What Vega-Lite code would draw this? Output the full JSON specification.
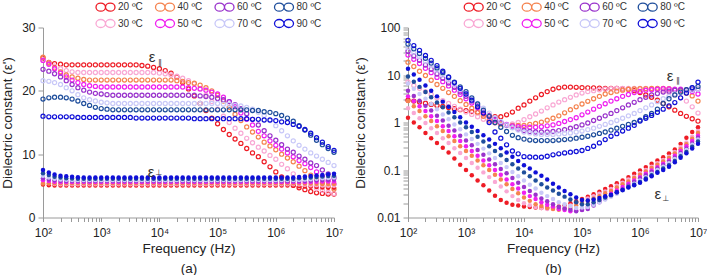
{
"$schema":"https://vega.github.io/schema/vega-lite/v6.json",
"background":"white",
"padding":{"left":0,"top":0.5,"right":0,"bottom":0},
"spacing":74,
"bounds":"flush",
"config":{"view":{"stroke":null},"font":"Liberation Sans",
"axis":{"domainColor":"#9a9a9a","tickColor":"#9a9a9a","labelColor":"#222","titleColor":"#222","labelFont":"Liberation Sans","titleFont":"Liberation Sans","titleFontWeight":"normal","labelFontSize":12,"titleFontSize":13.5,"grid":false,"tickSize":4,"labelOverlap":false,"labelBound":false,"labelFlush":false},
"legend":{"padding":0}},
"resolve":{"scale":{"stroke":"independent","fill":"independent"},"legend":{"stroke":"independent"}},
"datasets":{
"aPar":[
{"f":100,"t2":25.2,"t3":24.9,"t4":25.3,"t5":24.8,"t6":23.4,"t7":21.6,"t8":18.7,"t9":16.0},
{"f":126,"t2":24.5,"t3":24.4,"t4":24.4,"t5":24.2,"t6":23.1,"t7":21.5,"t8":18.9,"t9":15.9},
{"f":158,"t2":24.3,"t3":23.9,"t4":23.6,"t5":23.5,"t6":22.7,"t7":21.3,"t8":19.0,"t9":15.9},
{"f":200,"t2":24.2,"t3":23.5,"t4":23.0,"t5":22.8,"t6":22.2,"t7":21.0,"t8":19.0,"t9":15.9},
{"f":251,"t2":24.1,"t3":23.2,"t4":22.5,"t5":22.2,"t6":21.6,"t7":20.5,"t8":18.9,"t9":15.9},
{"f":316,"t2":24.1,"t3":23.0,"t4":22.2,"t5":21.7,"t6":21.0,"t7":20.0,"t8":18.7,"t9":15.9},
{"f":398,"t2":24.1,"t3":22.9,"t4":22.0,"t5":21.3,"t6":20.5,"t7":19.4,"t8":18.4,"t9":15.8},
{"f":501,"t2":24.1,"t3":22.9,"t4":21.8,"t5":21.0,"t6":20.1,"t7":18.9,"t8":18.0,"t9":15.8},
{"f":631,"t2":24.1,"t3":22.9,"t4":21.7,"t5":20.8,"t6":19.8,"t7":18.6,"t8":17.7,"t9":15.8},
{"f":794,"t2":24.1,"t3":22.9,"t4":21.7,"t5":20.7,"t6":19.6,"t7":18.4,"t8":17.4,"t9":15.8},
{"f":1e3,"t2":24.1,"t3":22.9,"t4":21.7,"t5":20.6,"t6":19.5,"t7":18.2,"t8":17.2,"t9":15.8},
{"f":1259,"t2":24.1,"t3":22.9,"t4":21.7,"t5":20.6,"t6":19.4,"t7":18.1,"t8":17.1,"t9":15.8},
{"f":1585,"t2":24.1,"t3":22.9,"t4":21.7,"t5":20.6,"t6":19.3,"t7":18.0,"t8":17.0,"t9":15.8},
{"f":1995,"t2":24.1,"t3":22.9,"t4":21.7,"t5":20.6,"t6":19.3,"t7":18.0,"t8":17.0,"t9":15.8},
{"f":2512,"t2":24.1,"t3":22.9,"t4":21.7,"t5":20.6,"t6":19.3,"t7":18.0,"t8":17.0,"t9":15.8},
{"f":3162,"t2":24.1,"t3":22.9,"t4":21.7,"t5":20.6,"t6":19.3,"t7":18.0,"t8":17.0,"t9":15.8},
{"f":3981,"t2":24.1,"t3":22.9,"t4":21.7,"t5":20.6,"t6":19.3,"t7":18.0,"t8":17.0,"t9":15.7},
{"f":5012,"t2":24.0,"t3":22.9,"t4":21.7,"t5":20.6,"t6":19.3,"t7":18.0,"t8":17.0,"t9":15.7},
{"f":6310,"t2":23.9,"t3":22.9,"t4":21.7,"t5":20.6,"t6":19.3,"t7":18.0,"t8":17.0,"t9":15.7},
{"f":7943,"t2":23.7,"t3":22.9,"t4":21.7,"t5":20.6,"t6":19.3,"t7":18.0,"t8":17.0,"t9":15.7},
{"f":1e4,"t2":23.5,"t3":22.8,"t4":21.7,"t5":20.6,"t6":19.3,"t7":18.0,"t8":17.0,"t9":15.7},
{"f":12589,"t2":23.2,"t3":22.7,"t4":21.7,"t5":20.6,"t6":19.3,"t7":18.0,"t8":17.0,"t9":15.7},
{"f":15849,"t2":22.8,"t3":22.5,"t4":21.7,"t5":20.6,"t6":19.3,"t7":18.0,"t8":17.0,"t9":15.7},
{"f":19953,"t2":22.2,"t3":22.3,"t4":21.6,"t5":20.6,"t6":19.3,"t7":18.0,"t8":17.0,"t9":15.7},
{"f":25119,"t2":21.3,"t3":22.0,"t4":21.5,"t5":20.6,"t6":19.3,"t7":18.0,"t8":17.0,"t9":15.7},
{"f":31623,"t2":20.3,"t3":21.6,"t4":21.3,"t5":20.5,"t6":19.3,"t7":18.0,"t8":17.0,"t9":15.7},
{"f":39811,"t2":19.2,"t3":21.1,"t4":21.2,"t5":20.4,"t6":19.3,"t7":18.0,"t8":17.0,"t9":15.6},
{"f":50119,"t2":18.0,"t3":20.3,"t4":20.9,"t5":20.3,"t6":19.2,"t7":18.0,"t8":17.0,"t9":15.6},
{"f":63096,"t2":16.9,"t3":19.3,"t4":20.5,"t5":20.1,"t6":19.1,"t7":18.0,"t8":17.0,"t9":15.6},
{"f":79433,"t2":15.7,"t3":18.3,"t4":20.0,"t5":19.8,"t6":19.0,"t7":18.0,"t8":17.0,"t9":15.6},
{"f":1e5,"t2":14.8,"t3":17.1,"t4":19.3,"t5":19.5,"t6":18.8,"t7":18.0,"t8":17.0,"t9":15.6},
{"f":125893,"t2":13.9,"t3":16.0,"t4":18.4,"t5":19.0,"t6":18.6,"t7":17.9,"t8":17.0,"t9":15.6},
{"f":158489,"t2":13.1,"t3":15.0,"t4":17.4,"t5":18.3,"t6":18.3,"t7":17.9,"t8":17.0,"t9":15.6},
{"f":199526,"t2":12.4,"t3":14.1,"t4":16.3,"t5":17.5,"t6":17.8,"t7":17.7,"t8":17.0,"t9":15.6},
{"f":251189,"t2":11.7,"t3":13.3,"t4":15.3,"t5":16.5,"t6":17.2,"t7":17.6,"t8":17.0,"t9":15.6},
{"f":316228,"t2":10.9,"t3":12.5,"t4":14.3,"t5":15.5,"t6":16.4,"t7":17.4,"t8":17.0,"t9":15.6},
{"f":398107,"t2":10.2,"t3":11.8,"t4":13.5,"t5":14.6,"t6":15.5,"t7":17.1,"t8":16.9,"t9":15.5},
{"f":501187,"t2":9.6,"t3":11.1,"t4":12.7,"t5":13.6,"t6":14.6,"t7":16.6,"t8":16.9,"t9":15.5},
{"f":630957,"t2":8.8,"t3":10.5,"t4":11.9,"t5":12.9,"t6":13.7,"t7":16.1,"t8":16.7,"t9":15.4},
{"f":794328,"t2":8.0,"t3":9.8,"t4":11.3,"t5":12.1,"t6":12.9,"t7":15.3,"t8":16.6,"t9":15.4},
{"f":1e6,"t2":7.2,"t3":9.2,"t4":10.7,"t5":11.4,"t6":12.2,"t7":14.5,"t8":16.4,"t9":15.3},
{"f":1258925,"t2":6.4,"t3":8.4,"t4":10.0,"t5":10.8,"t6":11.5,"t7":13.7,"t8":16.1,"t9":15.1},
{"f":1584893,"t2":5.7,"t3":7.7,"t4":9.4,"t5":10.2,"t6":10.8,"t7":12.9,"t8":15.7,"t9":15.0},
{"f":1995262,"t2":5.1,"t3":6.9,"t4":8.8,"t5":9.6,"t6":10.3,"t7":12.1,"t8":15.2,"t9":14.7},
{"f":2511886,"t2":4.7,"t3":6.1,"t4":8.1,"t5":9.0,"t6":9.7,"t7":11.4,"t8":14.5,"t9":14.4},
{"f":3162278,"t2":4.4,"t3":5.5,"t4":7.4,"t5":8.5,"t6":9.2,"t7":10.8,"t8":13.8,"t9":13.9},
{"f":3981072,"t2":4.1,"t3":5.0,"t4":6.7,"t5":7.9,"t6":8.6,"t7":10.2,"t8":13.0,"t9":13.3},
{"f":5011872,"t2":3.9,"t3":4.6,"t4":6.0,"t5":7.2,"t6":8.2,"t7":9.7,"t8":12.2,"t9":12.6},
{"f":6309573,"t2":3.8,"t3":4.3,"t4":5.4,"t5":6.5,"t6":7.5,"t7":9.2,"t8":11.5,"t9":11.9},
{"f":7943282,"t2":3.7,"t3":4.0,"t4":4.9,"t5":5.8,"t6":6.9,"t7":8.7,"t8":10.9,"t9":11.2},
{"f":1e7,"t2":3.7,"t3":3.8,"t4":4.5,"t5":5.3,"t6":6.3,"t7":8.2,"t8":10.3,"t9":10.6}
],
"aPerp":[
{"f":100,"t2":5.2,"t3":5.5,"t4":5.35,"t5":5.9,"t6":6.2,"t7":6.6,"t8":7.0,"t9":7.5},
{"f":126,"t2":5.1,"t3":5.4,"t4":5.4,"t5":5.75,"t6":6.0,"t7":6.3,"t8":6.7,"t9":7.1},
{"f":158,"t2":5.05,"t3":5.3,"t4":5.4,"t5":5.65,"t6":5.88,"t7":6.1,"t8":6.45,"t9":6.8},
{"f":200,"t2":5.05,"t3":5.25,"t4":5.4,"t5":5.6,"t6":5.8,"t7":6.0,"t8":6.3,"t9":6.6},
{"f":251,"t2":5.05,"t3":5.25,"t4":5.4,"t5":5.6,"t6":5.77,"t7":5.95,"t8":6.2,"t9":6.5},
{"f":316,"t2":5.05,"t3":5.25,"t4":5.4,"t5":5.6,"t6":5.75,"t7":5.92,"t8":6.15,"t9":6.42},
{"f":398,"t2":5.05,"t3":5.25,"t4":5.4,"t5":5.6,"t6":5.75,"t7":5.9,"t8":6.12,"t9":6.37},
{"f":501,"t2":5.05,"t3":5.25,"t4":5.4,"t5":5.6,"t6":5.75,"t7":5.9,"t8":6.1,"t9":6.33},
{"f":631,"t2":5.05,"t3":5.25,"t4":5.4,"t5":5.6,"t6":5.75,"t7":5.9,"t8":6.1,"t9":6.3},
{"f":794,"t2":5.05,"t3":5.25,"t4":5.4,"t5":5.6,"t6":5.75,"t7":5.9,"t8":6.1,"t9":6.3},
{"f":1e3,"t2":5.05,"t3":5.25,"t4":5.4,"t5":5.6,"t6":5.75,"t7":5.9,"t8":6.1,"t9":6.3},
{"f":1259,"t2":5.05,"t3":5.25,"t4":5.4,"t5":5.6,"t6":5.75,"t7":5.9,"t8":6.1,"t9":6.3},
{"f":1585,"t2":5.05,"t3":5.25,"t4":5.4,"t5":5.6,"t6":5.75,"t7":5.9,"t8":6.1,"t9":6.3},
{"f":1995,"t2":5.05,"t3":5.25,"t4":5.4,"t5":5.6,"t6":5.75,"t7":5.9,"t8":6.1,"t9":6.3},
{"f":2512,"t2":5.05,"t3":5.25,"t4":5.4,"t5":5.6,"t6":5.75,"t7":5.9,"t8":6.1,"t9":6.3},
{"f":3162,"t2":5.05,"t3":5.25,"t4":5.4,"t5":5.6,"t6":5.75,"t7":5.9,"t8":6.1,"t9":6.3},
{"f":3981,"t2":5.05,"t3":5.25,"t4":5.4,"t5":5.6,"t6":5.75,"t7":5.9,"t8":6.1,"t9":6.3},
{"f":5012,"t2":5.05,"t3":5.25,"t4":5.4,"t5":5.6,"t6":5.75,"t7":5.9,"t8":6.1,"t9":6.3},
{"f":6310,"t2":5.05,"t3":5.25,"t4":5.4,"t5":5.6,"t6":5.75,"t7":5.9,"t8":6.1,"t9":6.3},
{"f":7943,"t2":5.05,"t3":5.25,"t4":5.4,"t5":5.6,"t6":5.75,"t7":5.9,"t8":6.1,"t9":6.3},
{"f":1e4,"t2":5.05,"t3":5.25,"t4":5.4,"t5":5.6,"t6":5.75,"t7":5.9,"t8":6.1,"t9":6.3},
{"f":12589,"t2":5.05,"t3":5.25,"t4":5.4,"t5":5.6,"t6":5.75,"t7":5.9,"t8":6.1,"t9":6.3},
{"f":15849,"t2":5.05,"t3":5.25,"t4":5.4,"t5":5.6,"t6":5.75,"t7":5.9,"t8":6.1,"t9":6.3},
{"f":19953,"t2":5.05,"t3":5.25,"t4":5.4,"t5":5.6,"t6":5.75,"t7":5.9,"t8":6.1,"t9":6.3},
{"f":25119,"t2":5.05,"t3":5.25,"t4":5.4,"t5":5.6,"t6":5.75,"t7":5.9,"t8":6.1,"t9":6.3},
{"f":31623,"t2":5.05,"t3":5.25,"t4":5.4,"t5":5.6,"t6":5.75,"t7":5.9,"t8":6.1,"t9":6.3},
{"f":39811,"t2":5.05,"t3":5.25,"t4":5.4,"t5":5.6,"t6":5.75,"t7":5.9,"t8":6.1,"t9":6.3},
{"f":50119,"t2":5.05,"t3":5.25,"t4":5.4,"t5":5.6,"t6":5.75,"t7":5.9,"t8":6.1,"t9":6.3},
{"f":63096,"t2":5.05,"t3":5.25,"t4":5.4,"t5":5.6,"t6":5.75,"t7":5.9,"t8":6.1,"t9":6.3},
{"f":79433,"t2":5.05,"t3":5.25,"t4":5.4,"t5":5.6,"t6":5.75,"t7":5.9,"t8":6.1,"t9":6.3},
{"f":1e5,"t2":5.05,"t3":5.25,"t4":5.4,"t5":5.6,"t6":5.75,"t7":5.9,"t8":6.1,"t9":6.3},
{"f":125893,"t2":5.05,"t3":5.25,"t4":5.4,"t5":5.6,"t6":5.75,"t7":5.9,"t8":6.1,"t9":6.3},
{"f":158489,"t2":5.05,"t3":5.25,"t4":5.4,"t5":5.6,"t6":5.75,"t7":5.9,"t8":6.1,"t9":6.3},
{"f":199526,"t2":5.05,"t3":5.25,"t4":5.4,"t5":5.6,"t6":5.75,"t7":5.9,"t8":6.1,"t9":6.3},
{"f":251189,"t2":5.05,"t3":5.25,"t4":5.4,"t5":5.6,"t6":5.75,"t7":5.9,"t8":6.1,"t9":6.3},
{"f":316228,"t2":5.05,"t3":5.25,"t4":5.4,"t5":5.6,"t6":5.75,"t7":5.9,"t8":6.1,"t9":6.3},
{"f":398107,"t2":5.05,"t3":5.25,"t4":5.4,"t5":5.6,"t6":5.75,"t7":5.9,"t8":6.1,"t9":6.3},
{"f":501187,"t2":5.05,"t3":5.25,"t4":5.4,"t5":5.6,"t6":5.75,"t7":5.9,"t8":6.1,"t9":6.3},
{"f":630957,"t2":5.05,"t3":5.25,"t4":5.4,"t5":5.6,"t6":5.75,"t7":5.9,"t8":6.1,"t9":6.3},
{"f":794328,"t2":5.05,"t3":5.25,"t4":5.4,"t5":5.6,"t6":5.75,"t7":5.9,"t8":6.1,"t9":6.3},
{"f":1e6,"t2":5.05,"t3":5.25,"t4":5.4,"t5":5.6,"t6":5.75,"t7":5.9,"t8":6.1,"t9":6.3},
{"f":1258925,"t2":5.05,"t3":5.25,"t4":5.4,"t5":5.6,"t6":5.75,"t7":5.9,"t8":6.1,"t9":6.3},
{"f":1584893,"t2":5.05,"t3":5.25,"t4":5.4,"t5":5.6,"t6":5.75,"t7":5.9,"t8":6.1,"t9":6.3},
{"f":1995262,"t2":5.0,"t3":5.25,"t4":5.4,"t5":5.6,"t6":5.75,"t7":5.9,"t8":6.13,"t9":6.33},
{"f":2511886,"t2":4.95,"t3":5.2,"t4":5.4,"t5":5.6,"t6":5.75,"t7":5.93,"t8":6.18,"t9":6.4},
{"f":3162278,"t2":4.9,"t3":5.15,"t4":5.38,"t5":5.6,"t6":5.78,"t7":5.98,"t8":6.25,"t9":6.48},
{"f":3981072,"t2":4.85,"t3":5.1,"t4":5.35,"t5":5.62,"t6":5.82,"t7":6.05,"t8":6.33,"t9":6.57},
{"f":5011872,"t2":4.8,"t3":5.1,"t4":5.33,"t5":5.65,"t6":5.88,"t7":6.12,"t8":6.4,"t9":6.65},
{"f":6309573,"t2":4.75,"t3":5.05,"t4":5.3,"t5":5.68,"t6":5.92,"t7":6.2,"t8":6.48,"t9":6.73},
{"f":7943282,"t2":4.7,"t3":5.0,"t4":5.3,"t5":5.7,"t6":5.96,"t7":6.25,"t8":6.55,"t9":6.82},
{"f":1e7,"t2":4.7,"t3":5.0,"t4":5.3,"t5":5.7,"t6":6.0,"t7":6.3,"t8":6.6,"t9":6.9}
],
"bPar":[
{"f":100,"t2":2.95,"t3":7.08,"t4":18.6,"t5":26.3,"t6":31.6,"t7":38.0,"t8":44.7,"t9":53.7},
{"f":126,"t2":2.82,"t3":6.03,"t4":15.1,"t5":21.4,"t6":25.1,"t7":30.2,"t8":35.5,"t9":41.7},
{"f":158,"t2":2.69,"t3":5.25,"t4":12.0,"t5":17.4,"t6":20.4,"t7":24.5,"t8":28.2,"t9":33.1},
{"f":200,"t2":2.54,"t3":4.47,"t4":9.77,"t5":13.8,"t6":16.2,"t7":19.5,"t8":22.4,"t9":25.7},
{"f":251,"t2":2.40,"t3":3.89,"t4":7.76,"t5":11.2,"t6":13.2,"t7":15.8,"t8":17.8,"t9":20.4},
{"f":316,"t2":2.29,"t3":3.31,"t4":6.31,"t5":8.91,"t6":10.5,"t7":12.6,"t8":14.1,"t9":15.8},
{"f":398,"t2":2.19,"t3":2.88,"t4":5.25,"t5":7.24,"t6":8.51,"t7":10.0,"t8":11.2,"t9":12.0},
{"f":501,"t2":2.07,"t3":2.51,"t4":4.27,"t5":5.89,"t6":6.76,"t7":7.94,"t8":8.91,"t9":9.12},
{"f":631,"t2":1.95,"t3":2.19,"t4":3.55,"t5":4.79,"t6":5.50,"t7":6.31,"t8":7.08,"t9":6.92},
{"f":794,"t2":1.86,"t3":1.91,"t4":2.88,"t5":3.89,"t6":4.37,"t7":5.01,"t8":5.62,"t9":5.25},
{"f":1e3,"t2":1.78,"t3":1.66,"t4":2.40,"t5":3.16,"t6":3.55,"t7":3.98,"t8":4.47,"t9":3.98},
{"f":1259,"t2":1.70,"t3":1.48,"t4":2.0,"t5":2.57,"t6":2.82,"t7":3.16,"t8":3.31,"t9":2.95},
{"f":1585,"t2":1.62,"t3":1.32,"t4":1.66,"t5":2.04,"t6":2.24,"t7":2.51,"t8":2.45,"t9":2.14},
{"f":1995,"t2":1.51,"t3":1.17,"t4":1.35,"t5":1.66,"t6":1.78,"t7":2.0,"t8":1.82,"t9":1.58},
{"f":2512,"t2":1.41,"t3":1.05,"t4":1.12,"t5":1.32,"t6":1.41,"t7":1.58,"t8":1.35,"t9":1.0},
{"f":3162,"t2":1.32,"t3":0.977,"t4":1.0,"t5":1.12,"t6":1.17,"t7":1.26,"t8":1.0,"t9":0.631},
{"f":3981,"t2":1.32,"t3":0.933,"t4":0.933,"t5":1.0,"t6":1.0,"t7":1.05,"t8":0.794,"t9":0.468},
{"f":5012,"t2":1.45,"t3":0.891,"t4":0.891,"t5":0.912,"t6":0.871,"t7":0.891,"t8":0.646,"t9":0.339},
{"f":6310,"t2":1.66,"t3":0.933,"t4":0.871,"t5":0.851,"t6":0.794,"t7":0.776,"t8":0.537,"t9":0.251},
{"f":7943,"t2":2.0,"t3":1.0,"t4":0.871,"t5":0.813,"t6":0.724,"t7":0.692,"t8":0.479,"t9":0.219},
{"f":1e4,"t2":2.34,"t3":1.15,"t4":0.871,"t5":0.794,"t6":0.676,"t7":0.631,"t8":0.447,"t9":0.191},
{"f":12589,"t2":2.82,"t3":1.32,"t4":0.912,"t5":0.794,"t6":0.646,"t7":0.603,"t8":0.427,"t9":0.188},
{"f":15849,"t2":3.31,"t3":1.51,"t4":0.955,"t5":0.794,"t6":0.631,"t7":0.575,"t8":0.417,"t9":0.186},
{"f":19953,"t2":3.89,"t3":1.74,"t4":1.02,"t5":0.813,"t6":0.631,"t7":0.562,"t8":0.417,"t9":0.186},
{"f":25119,"t2":4.47,"t3":2.04,"t4":1.12,"t5":0.851,"t6":0.631,"t7":0.562,"t8":0.417,"t9":0.195},
{"f":31623,"t2":5.01,"t3":2.34,"t4":1.23,"t5":0.891,"t6":0.646,"t7":0.562,"t8":0.417,"t9":0.209},
{"f":39811,"t2":5.37,"t3":2.69,"t4":1.38,"t5":0.955,"t6":0.676,"t7":0.575,"t8":0.427,"t9":0.219},
{"f":50119,"t2":5.56,"t3":3.02,"t4":1.60,"t5":1.05,"t6":0.708,"t7":0.589,"t8":0.437,"t9":0.229},
{"f":63096,"t2":5.56,"t3":3.39,"t4":1.86,"t5":1.15,"t6":0.759,"t7":0.603,"t8":0.447,"t9":0.237},
{"f":79433,"t2":5.50,"t3":3.80,"t4":2.14,"t5":1.26,"t6":0.813,"t7":0.631,"t8":0.468,"t9":0.245},
{"f":1e5,"t2":5.43,"t3":4.17,"t4":2.45,"t5":1.45,"t6":0.891,"t7":0.661,"t8":0.490,"t9":0.257},
{"f":125893,"t2":5.37,"t3":4.47,"t4":2.79,"t5":1.66,"t6":0.977,"t7":0.708,"t8":0.513,"t9":0.285},
{"f":158489,"t2":5.37,"t3":4.68,"t4":3.16,"t5":1.91,"t6":1.10,"t7":0.759,"t8":0.550,"t9":0.316},
{"f":199526,"t2":5.31,"t3":4.90,"t4":3.55,"t5":2.19,"t6":1.23,"t7":0.832,"t8":0.589,"t9":0.372},
{"f":251189,"t2":5.25,"t3":5.01,"t4":3.98,"t5":2.48,"t6":1.38,"t7":0.912,"t8":0.631,"t9":0.437},
{"f":316228,"t2":5.25,"t3":5.13,"t4":4.27,"t5":2.82,"t6":1.55,"t7":1.0,"t8":0.692,"t9":0.513},
{"f":398107,"t2":5.25,"t3":5.19,"t4":4.57,"t5":3.16,"t6":1.78,"t7":1.10,"t8":0.759,"t9":0.582},
{"f":501187,"t2":5.13,"t3":5.25,"t4":4.79,"t5":3.55,"t6":2.04,"t7":1.23,"t8":0.832,"t9":0.661},
{"f":630957,"t2":5.01,"t3":5.25,"t4":5.01,"t5":3.89,"t6":2.34,"t7":1.38,"t8":0.912,"t9":0.759},
{"f":794328,"t2":4.68,"t3":5.25,"t4":5.07,"t5":4.27,"t6":2.66,"t7":1.55,"t8":1.0,"t9":0.871},
{"f":1e6,"t2":4.27,"t3":5.25,"t4":5.13,"t5":4.52,"t6":3.02,"t7":1.78,"t8":1.12,"t9":1.07},
{"f":1258925,"t2":3.80,"t3":5.19,"t4":5.16,"t5":4.79,"t6":3.39,"t7":2.04,"t8":1.32,"t9":1.23},
{"f":1584893,"t2":3.39,"t3":5.13,"t4":5.21,"t5":4.90,"t6":3.80,"t7":2.34,"t8":1.55,"t9":1.41},
{"f":1995262,"t2":2.95,"t3":4.90,"t4":5.25,"t5":5.01,"t6":4.07,"t7":2.75,"t8":1.91,"t9":1.64},
{"f":2511886,"t2":2.51,"t3":4.68,"t4":5.19,"t5":5.13,"t6":4.37,"t7":3.16,"t8":2.51,"t9":1.91},
{"f":3162278,"t2":2.14,"t3":4.27,"t4":5.13,"t5":5.09,"t6":4.57,"t7":3.55,"t8":3.16,"t9":2.24},
{"f":3981072,"t2":1.82,"t3":3.80,"t4":4.90,"t5":5.05,"t6":4.79,"t7":3.98,"t8":3.80,"t9":2.63},
{"f":5011872,"t2":1.55,"t3":3.31,"t4":4.68,"t5":5.01,"t6":4.84,"t7":4.27,"t8":4.37,"t9":3.31},
{"f":6309573,"t2":1.35,"t3":2.82,"t4":4.12,"t5":4.73,"t6":4.90,"t7":4.57,"t8":4.90,"t9":4.17},
{"f":7943282,"t2":1.20,"t3":2.14,"t4":3.63,"t5":4.47,"t6":4.95,"t7":4.79,"t8":5.37,"t9":5.43},
{"f":1e7,"t2":1.07,"t3":1.58,"t4":2.82,"t5":3.98,"t6":5.01,"t7":5.01,"t8":5.75,"t9":7.08}
],
"bPerp":[
{"f":100,"t2":1.26,"t3":2.0,"t4":2.82,"t5":3.55,"t6":4.68,"t7":6.61,"t8":9.33,"t9":13.5},
{"f":126,"t2":1.0,"t3":1.58,"t4":2.19,"t5":2.82,"t6":3.63,"t7":5.13,"t8":7.24,"t9":10.2},
{"f":158,"t2":0.794,"t3":1.23,"t4":1.74,"t5":2.19,"t6":2.88,"t7":3.98,"t8":5.62,"t9":7.94},
{"f":200,"t2":0.603,"t3":0.977,"t4":1.35,"t5":1.74,"t6":2.24,"t7":3.16,"t8":4.37,"t9":6.03},
{"f":251,"t2":0.468,"t3":0.759,"t4":1.07,"t5":1.35,"t6":1.78,"t7":2.45,"t8":3.39,"t9":4.68},
{"f":316,"t2":0.372,"t3":0.603,"t4":0.832,"t5":1.07,"t6":1.38,"t7":1.91,"t8":2.63,"t9":3.55},
{"f":398,"t2":0.295,"t3":0.468,"t4":0.661,"t5":0.832,"t6":1.1,"t7":1.48,"t8":2.09,"t9":2.75},
{"f":501,"t2":0.234,"t3":0.372,"t4":0.513,"t5":0.661,"t6":0.851,"t7":1.17,"t8":1.62,"t9":2.14},
{"f":631,"t2":0.174,"t3":0.288,"t4":0.407,"t5":0.513,"t6":0.676,"t7":0.912,"t8":1.29,"t9":1.66},
{"f":794,"t2":0.129,"t3":0.229,"t4":0.316,"t5":0.407,"t6":0.525,"t7":0.724,"t8":1.0,"t9":1.29},
{"f":1e3,"t2":0.1,"t3":0.178,"t4":0.251,"t5":0.316,"t6":0.417,"t7":0.562,"t8":0.794,"t9":1.0},
{"f":1259,"t2":0.0776,"t3":0.141,"t4":0.2,"t5":0.251,"t6":0.331,"t7":0.447,"t8":0.631,"t9":0.813},
{"f":1585,"t2":0.0603,"t3":0.112,"t4":0.158,"t5":0.2,"t6":0.263,"t7":0.355,"t8":0.501,"t9":0.661},
{"f":1995,"t2":0.0479,"t3":0.0891,"t4":0.126,"t5":0.158,"t6":0.209,"t7":0.282,"t8":0.398,"t9":0.537},
{"f":2512,"t2":0.0372,"t3":0.0708,"t4":0.1,"t5":0.126,"t6":0.166,"t7":0.224,"t8":0.316,"t9":0.437},
{"f":3162,"t2":0.0288,"t3":0.0562,"t4":0.0794,"t5":0.1,"t6":0.132,"t7":0.178,"t8":0.251,"t9":0.355},
{"f":3981,"t2":0.0234,"t3":0.0447,"t4":0.0631,"t5":0.0794,"t6":0.105,"t7":0.141,"t8":0.204,"t9":0.288},
{"f":5012,"t2":0.0204,"t3":0.0355,"t4":0.0501,"t5":0.0631,"t6":0.0851,"t7":0.115,"t8":0.162,"t9":0.234},
{"f":6310,"t2":0.0186,"t3":0.0282,"t4":0.0398,"t5":0.0501,"t6":0.0676,"t7":0.0912,"t8":0.132,"t9":0.191},
{"f":7943,"t2":0.0178,"t3":0.0234,"t4":0.0324,"t5":0.0407,"t6":0.0537,"t7":0.0741,"t8":0.107,"t9":0.155},
{"f":1e4,"t2":0.017,"t3":0.02,"t4":0.0263,"t5":0.0331,"t6":0.0437,"t7":0.0603,"t8":0.0891,"t9":0.126},
{"f":12589,"t2":0.0166,"t3":0.0182,"t4":0.0224,"t5":0.0282,"t6":0.0363,"t7":0.049,"t8":0.0741,"t9":0.107},
{"f":15849,"t2":0.0162,"t3":0.0166,"t4":0.0191,"t5":0.0245,"t6":0.0302,"t7":0.0407,"t8":0.0603,"t9":0.0891},
{"f":19953,"t2":0.0158,"t3":0.0158,"t4":0.0174,"t5":0.0209,"t6":0.0251,"t7":0.0331,"t8":0.0501,"t9":0.0759},
{"f":25119,"t2":0.0158,"t3":0.0151,"t4":0.0158,"t5":0.0186,"t6":0.0219,"t7":0.0282,"t8":0.0427,"t9":0.0631},
{"f":31623,"t2":0.0162,"t3":0.0153,"t4":0.0151,"t5":0.017,"t6":0.0191,"t7":0.0245,"t8":0.0372,"t9":0.0513},
{"f":39811,"t2":0.017,"t3":0.0155,"t4":0.0145,"t5":0.0151,"t6":0.0166,"t7":0.0209,"t8":0.0316,"t9":0.0427},
{"f":50119,"t2":0.0182,"t3":0.0166,"t4":0.0151,"t5":0.0143,"t6":0.0155,"t7":0.0191,"t8":0.0275,"t9":0.0363},
{"f":63096,"t2":0.02,"t3":0.0178,"t4":0.0158,"t5":0.0135,"t6":0.0145,"t7":0.0174,"t8":0.024,"t9":0.0309},
{"f":79433,"t2":0.0219,"t3":0.02,"t4":0.0178,"t5":0.014,"t6":0.0135,"t7":0.0158,"t8":0.0209,"t9":0.0263},
{"f":1e5,"t2":0.0245,"t3":0.0219,"t4":0.02,"t5":0.0145,"t6":0.0143,"t7":0.0162,"t8":0.0191,"t9":0.0234},
{"f":125893,"t2":0.0275,"t3":0.0251,"t4":0.0224,"t5":0.0166,"t6":0.0151,"t7":0.0166,"t8":0.0191,"t9":0.0229},
{"f":158489,"t2":0.0309,"t3":0.0282,"t4":0.0251,"t5":0.0191,"t6":0.0178,"t7":0.0186,"t8":0.0209,"t9":0.024},
{"f":199526,"t2":0.0347,"t3":0.0316,"t4":0.0282,"t5":0.0224,"t6":0.0209,"t7":0.0209,"t8":0.0234,"t9":0.0257},
{"f":251189,"t2":0.0398,"t3":0.0355,"t4":0.0324,"t5":0.0269,"t6":0.0245,"t7":0.024,"t8":0.0263,"t9":0.0279},
{"f":316228,"t2":0.0457,"t3":0.0398,"t4":0.0363,"t5":0.0316,"t6":0.0282,"t7":0.0275,"t8":0.0295,"t9":0.0302},
{"f":398107,"t2":0.0525,"t3":0.0468,"t4":0.0427,"t5":0.0372,"t6":0.0331,"t7":0.0316,"t8":0.0339,"t9":0.0339},
{"f":501187,"t2":0.0603,"t3":0.0537,"t4":0.0501,"t5":0.0437,"t6":0.0394,"t7":0.0372,"t8":0.038,"t9":0.038},
{"f":630957,"t2":0.0708,"t3":0.0631,"t4":0.0575,"t5":0.0513,"t6":0.0468,"t7":0.0437,"t8":0.0437,"t9":0.0427},
{"f":794328,"t2":0.0832,"t3":0.0724,"t4":0.0676,"t5":0.0603,"t6":0.0556,"t7":0.0513,"t8":0.049,"t9":0.0479},
{"f":1e6,"t2":0.0977,"t3":0.0851,"t4":0.0794,"t5":0.0708,"t6":0.0661,"t7":0.0603,"t8":0.0562,"t9":0.0537},
{"f":1258925,"t2":0.115,"t3":0.1,"t4":0.0933,"t5":0.0832,"t6":0.0776,"t7":0.0708,"t8":0.0661,"t9":0.0631},
{"f":1584893,"t2":0.135,"t3":0.117,"t4":0.11,"t5":0.0977,"t6":0.0912,"t7":0.0832,"t8":0.0776,"t9":0.0741},
{"f":1995262,"t2":0.158,"t3":0.138,"t4":0.129,"t5":0.115,"t6":0.107,"t7":0.1,"t8":0.0912,"t9":0.0871},
{"f":2511886,"t2":0.186,"t3":0.162,"t4":0.151,"t5":0.135,"t6":0.126,"t7":0.117,"t8":0.107,"t9":0.1},
{"f":3162278,"t2":0.224,"t3":0.191,"t4":0.178,"t5":0.158,"t6":0.148,"t7":0.138,"t8":0.126,"t9":0.117},
{"f":3981072,"t2":0.269,"t3":0.24,"t4":0.224,"t5":0.2,"t6":0.182,"t7":0.17,"t8":0.155,"t9":0.145},
{"f":5011872,"t2":0.355,"t3":0.302,"t4":0.275,"t5":0.251,"t6":0.229,"t7":0.214,"t8":0.195,"t9":0.182},
{"f":6309573,"t2":0.479,"t3":0.38,"t4":0.347,"t5":0.316,"t6":0.282,"t7":0.263,"t8":0.24,"t9":0.224},
{"f":7943282,"t2":0.631,"t3":0.501,"t4":0.457,"t5":0.407,"t6":0.363,"t7":0.339,"t8":0.309,"t9":0.282},
{"f":1e7,"t2":0.794,"t3":0.661,"t4":0.603,"t5":0.525,"t6":0.479,"t7":0.437,"t8":0.398,"t9":0.355}
]
},
"hconcat":[
{"width":291,"height":190,
"layer":[
{"data":{"name":"aPar"},"transform":[{"fold":["t2","t3","t4","t5","t6","t7","t8","t9"],"as":["T","v"]}],
"mark":{"type":"point","filled":false,"fill":"transparent","size":17,"strokeWidth":1.2,"opacity":1},
"encoding":{
"x":{"field":"f","type":"quantitative","scale":{"type":"log","domain":[100,10000000],"nice":false},
"axis":{"values":[100,200,300,400,500,600,700,800,900,1000,2000,3000,4000,5000,6000,7000,8000,9000,10000,20000,30000,40000,50000,60000,70000,80000,90000,100000,200000,300000,400000,500000,600000,700000,800000,900000,1000000,2000000,3000000,4000000,5000000,6000000,7000000,8000000,9000000,10000000],
"labelExpr":"datum.value == 100 ? '10²' : datum.value == 1000 ? '10³' : datum.value == 10000 ? '10⁴' : datum.value == 100000 ? '10⁵' : datum.value == 1000000 ? '10⁶' : datum.value == 10000000 ? '10⁷' : ''",
"title":["Frequency (Hz)","(a)"],"titleLineHeight":20,"labelPadding":5.5,"titlePadding":3,"tickSize":4}},
"y":{"field":"v","type":"quantitative","scale":{"domain":[0,30],"nice":false},
"axis":{"values":[0,2.5,5,7.5,10,12.5,15,17.5,20,22.5,25,27.5,30],"labelExpr":"datum.value % 5 == 0 ? datum.label : ''","title":"Dielectric constant (ε')","titlePadding":7.5,"labelPadding":3,"tickSize":5}},
"stroke":{"field":"T","type":"nominal","scale":{"domain":["t2","t4","t6","t8","t3","t5","t7","t9"],"range":["#ee1c25","#f5834f","#9933cc","#1f4e9c","#f9a8d4","#f020f0","#c8c8f8","#1010d8"]},
"legend":{"orient":"none","legendX":56.5,"legendY":-26.5,"columns":4,"direction":"horizontal","title":null,"symbolType":"M-1.9,0A0.95,0.8,0,1,1,0,0A0.95,0.8,0,1,1,-1.9,0M0,0A0.95,0.8,0,1,1,1.9,0A0.95,0.8,0,1,1,0,0","symbolSize":100,"symbolStrokeWidth":1.3,"symbolFillColor":"transparent","labelFontSize":10,"labelColor":"#333","labelFont":"Liberation Sans","labelOffset":6.5,"columnPadding":8.5,"rowPadding":2.5,"padding":0,"labelExpr":"replace(datum.label, 't', '') + '0 ºC'"}}
}},
{"data":{"name":"aPerp"},"transform":[{"fold":["t2","t3","t4","t5","t6","t7","t8","t9"],"as":["T","v"]}],
"mark":{"type":"point","filled":true,"size":20,"opacity":1},
"encoding":{
"x":{"field":"f","type":"quantitative"},
"y":{"field":"v","type":"quantitative"},
"fill":{"field":"T","type":"nominal","scale":{"domain":["t2","t3","t4","t5","t6","t7","t8","t9"],"range":["#ee1c25","#f9a8d4","#f5834f","#f020f0","#9933cc","#c8c8f8","#1f4e9c","#1010d8"]},"legend":null}
}},
{"data":{"values":[{"f":7460,"v":25.3,"t":"ε"},{"f":7180,"v":7.25,"t":"ε"}]},
"mark":{"type":"text","fontSize":15,"color":"#333","font":"Liberation Sans"},
"encoding":{"x":{"field":"f","type":"quantitative"},"y":{"field":"v","type":"quantitative"},"text":{"field":"t"}}},
{"data":{"values":[{"f":10230,"v":24.4,"t":"∥"},{"f":9840,"v":6.95,"t":"⊥"}]},
"mark":{"type":"text","fontSize":8,"color":"#333","font":"DejaVu Sans"},
"encoding":{"x":{"field":"f","type":"quantitative"},"y":{"field":"v","type":"quantitative"},"text":{"field":"t"}}}
]},
{"width":290,"height":190,
"layer":[
{"data":{"name":"bPar"},"transform":[{"fold":["t2","t3","t4","t5","t6","t7","t8","t9"],"as":["T","v"]}],
"mark":{"type":"point","filled":false,"fill":"transparent","size":17,"strokeWidth":1.2,"opacity":1},
"encoding":{
"x":{"field":"f","type":"quantitative","scale":{"type":"log","domain":[100,10000000],"nice":false},
"axis":{"values":[100,200,300,400,500,600,700,800,900,1000,2000,3000,4000,5000,6000,7000,8000,9000,10000,20000,30000,40000,50000,60000,70000,80000,90000,100000,200000,300000,400000,500000,600000,700000,800000,900000,1000000,2000000,3000000,4000000,5000000,6000000,7000000,8000000,9000000,10000000],
"labelExpr":"datum.value == 100 ? '10²' : datum.value == 1000 ? '10³' : datum.value == 10000 ? '10⁴' : datum.value == 100000 ? '10⁵' : datum.value == 1000000 ? '10⁶' : datum.value == 10000000 ? '10⁷' : ''",
"title":["Frequency (Hz)","(b)"],"titleLineHeight":20,"labelPadding":5.5,"titlePadding":3,"tickSize":4}},
"y":{"field":"v","type":"quantitative","scale":{"type":"log","domain":[0.01,100],"nice":false},
"axis":{"values":[0.01,0.02,0.03,0.04,0.05,0.06,0.07,0.08,0.09,0.1,0.2,0.3,0.4,0.5,0.6,0.7,0.8,0.9,1,2,3,4,5,6,7,8,9,10,20,30,40,50,60,70,80,90,100],"format":"~g","labelExpr":"indexof([0.01,0.1,1,10,100], datum.value) >= 0 ? datum.label : ''","title":"Dielectric constant (ε')","titlePadding":9,"labelPadding":3,"tickSize":5}},
"stroke":{"field":"T","type":"nominal","scale":{"domain":["t2","t4","t6","t8","t3","t5","t7","t9"],"range":["#ee1c25","#f5834f","#9933cc","#1f4e9c","#f9a8d4","#f020f0","#c8c8f8","#1010d8"]},
"legend":{"orient":"none","legendX":59.7,"legendY":-26.5,"columns":4,"direction":"horizontal","title":null,"symbolType":"M-1.9,0A0.95,0.8,0,1,1,0,0A0.95,0.8,0,1,1,-1.9,0M0,0A0.95,0.8,0,1,1,1.9,0A0.95,0.8,0,1,1,0,0","symbolSize":100,"symbolStrokeWidth":1.3,"symbolFillColor":"transparent","labelFontSize":10,"labelColor":"#333","labelFont":"Liberation Sans","labelOffset":6.5,"columnPadding":7,"rowPadding":2.5,"padding":0,"labelExpr":"replace(datum.label, 't', '') + '0 ºC'"}}
}},
{"data":{"name":"bPerp"},"transform":[{"fold":["t2","t3","t4","t5","t6","t7","t8","t9"],"as":["T","v"]}],
"mark":{"type":"point","filled":true,"size":20,"opacity":1},
"encoding":{
"x":{"field":"f","type":"quantitative"},
"y":{"field":"v","type":"quantitative"},
"fill":{"field":"T","type":"nominal","scale":{"domain":["t2","t3","t4","t5","t6","t7","t8","t9"],"range":["#ee1c25","#f9a8d4","#f5834f","#f020f0","#9933cc","#c8c8f8","#1f4e9c","#1010d8"]},"legend":null}
}},
{"data":{"values":[{"f":3290000,"v":9.75,"t":"ε"},{"f":2040000,"v":0.032,"t":"ε"}]},
"mark":{"type":"text","fontSize":15,"color":"#333","font":"Liberation Sans"},
"encoding":{"x":{"field":"f","type":"quantitative"},"y":{"field":"v","type":"quantitative"},"text":{"field":"t"}}},
{"data":{"values":[{"f":4520000,"v":7.65,"t":"∥"},{"f":2800000,"v":0.025,"t":"⊥"}]},
"mark":{"type":"text","fontSize":8,"color":"#333","font":"DejaVu Sans"},
"encoding":{"x":{"field":"f","type":"quantitative"},"y":{"field":"v","type":"quantitative"},"text":{"field":"t"}}}
]}
]
}
